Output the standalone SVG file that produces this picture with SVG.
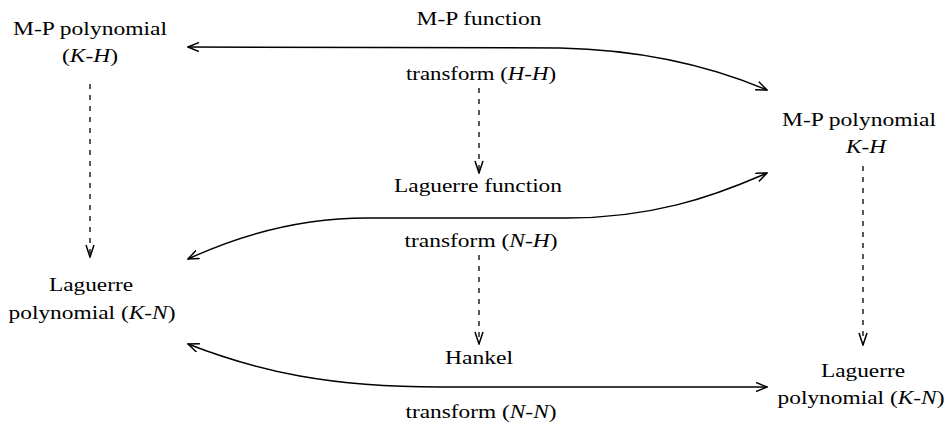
<svg xmlns="http://www.w3.org/2000/svg" width="949" height="428" viewBox="0 0 949 428">
<style>
.t{font-size:19px;fill:#000;text-anchor:middle}
.i{font-style:italic}
.arc{fill:none;stroke:#000;stroke-width:1.5}
.dash{fill:none;stroke:#000;stroke-width:1.3;stroke-dasharray:5 6}
</style>
<defs>
<marker id="ah" viewBox="0 0 12 10" refX="11" refY="5" markerWidth="12" markerHeight="10" markerUnits="userSpaceOnUse" orient="auto-start-reverse">
<path d="M0,0.5 L11,5 L0,9.5" fill="none" stroke="#000" stroke-width="1.5"/>
</marker>
<marker id="dh" viewBox="0 0 10 14" refX="5" refY="13" markerWidth="10" markerHeight="14" markerUnits="userSpaceOnUse" orient="0">
<path d="M1,1 L5,13 L9,1" fill="none" stroke="#000" stroke-width="1.5"/>
</marker>
</defs>
<g class="t" font-family="Liberation Serif, Times New Roman, serif">
<g id="mp-poly-left"><text x="90" y="35" textLength="154" lengthAdjust="spacingAndGlyphs">M-P polynomial</text><text x="90" y="62" textLength="56" lengthAdjust="spacingAndGlyphs">(<tspan class="i">K</tspan>-<tspan class="i">H</tspan>)</text></g>
<g id="lag-poly-left"><text x="91" y="291" textLength="84" lengthAdjust="spacingAndGlyphs">Laguerre</text><text x="92" y="319" textLength="167" lengthAdjust="spacingAndGlyphs">polynomial (<tspan class="i">K</tspan>-<tspan class="i">N</tspan>)</text></g>
<g id="mp-poly-right"><text x="859" y="126" textLength="154" lengthAdjust="spacingAndGlyphs">M-P polynomial</text><text x="866" y="153" textLength="40" lengthAdjust="spacingAndGlyphs"><tspan class="i">K</tspan>-<tspan class="i">H</tspan></text></g>
<g id="lag-poly-right"><text x="863" y="377" textLength="84" lengthAdjust="spacingAndGlyphs">Laguerre</text><text x="861" y="404" textLength="167" lengthAdjust="spacingAndGlyphs">polynomial (<tspan class="i">K</tspan>-<tspan class="i">N</tspan>)</text></g>
<g id="mp-func"><text x="479" y="25" textLength="125" lengthAdjust="spacingAndGlyphs">M-P function</text><text x="481" y="80" textLength="150" lengthAdjust="spacingAndGlyphs">transform (<tspan class="i">H</tspan>-<tspan class="i">H</tspan>)</text></g>
<g id="lag-func"><text x="478" y="192" textLength="168" lengthAdjust="spacingAndGlyphs">Laguerre function</text><text x="481" y="247" textLength="153" lengthAdjust="spacingAndGlyphs">transform (<tspan class="i">N</tspan>-<tspan class="i">H</tspan>)</text></g>
<g id="hankel"><text x="479" y="364" textLength="68" lengthAdjust="spacingAndGlyphs">Hankel</text><text x="481" y="418" textLength="151" lengthAdjust="spacingAndGlyphs">transform (<tspan class="i">N</tspan>-<tspan class="i">N</tspan>)</text></g>
</g>
<g id="connectors">
<path class="arc" d="M188,47 L560,48 C650,50 715,68 767,90" marker-start="url(#ah)" marker-end="url(#ah)"/>
<path class="arc" d="M188,259 C240,235 300,218 367,218 L567,218 C650,218 710,198 767,173" marker-start="url(#ah)" marker-end="url(#ah)"/>
<path class="arc" d="M188,344 C260,372 330,387 440,387 L767,387" marker-start="url(#ah)" marker-end="url(#ah)"/>
<path class="dash" d="M90,84 L90,257" marker-end="url(#dh)"/>
<path class="dash" d="M479,88 L479,173" marker-end="url(#dh)"/>
<path class="dash" d="M479,255 L479,344" marker-end="url(#dh)"/>
<path class="dash" d="M863,166 L863,345" marker-end="url(#dh)"/>
</g>
</svg>
